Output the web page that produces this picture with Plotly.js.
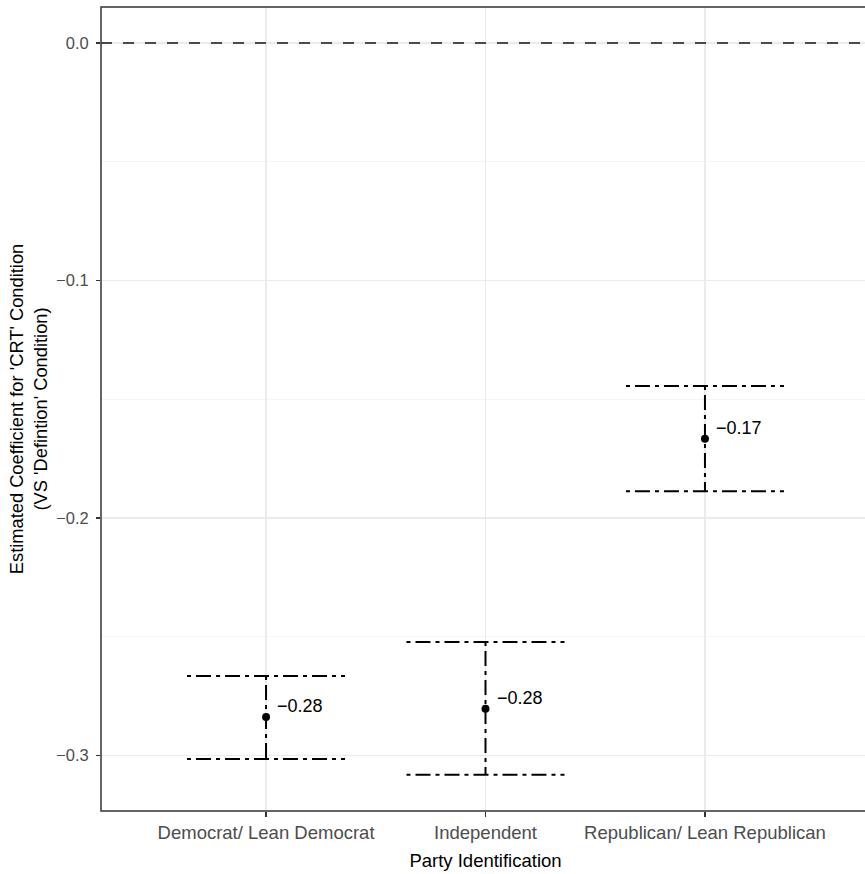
<!DOCTYPE html>
<html>
<head>
<meta charset="utf-8">
<script src="https://cdn.plot.ly/plotly-3.0.1.min.js"></script>
<style>
  html, body { margin: 0; padding: 0; overflow: hidden; background: #fff; }
  #chart { width: 880px; height: 874px; }
</style>
</head>
<body>
<div id="chart"></div>
<script>
// ---- data ----
const categories = ["Democrat/ Lean Democrat", "Independent", "Republican/ Lean Republican"];
const estimates  = [-0.2838, -0.2803, -0.1667];
const upperCI    = [-0.2665, -0.2522, -0.1444];
const lowerCI    = [-0.3015, -0.3081, -0.1888];
const referenceValue = 0;
const yTickVals  = [0, -0.1, -0.2, -0.3];

// ---- styling constants ----
const FONT = "Liberation Sans, Arial, Helvetica, sans-serif";
const whiskerHalf = 0.36;
const positions = categories.map((c, i) => i + 1);

// error bars as dash-dot paths
const ebX = [], ebY = [];
positions.forEach((p, i) => {
  ebX.push(p - whiskerHalf, p + whiskerHalf, null, p, p, null, p - whiskerHalf, p + whiskerHalf, null);
  ebY.push(upperCI[i], upperCI[i], null, upperCI[i], lowerCI[i], null, lowerCI[i], lowerCI[i], null);
});

const traces = [
  {
    x: ebX, y: ebY, type: "scatter", mode: "lines",
    line: { color: "#000000", width: 2, dash: "4px,5px,15px,5px" },
    hoverinfo: "skip", showlegend: false, connectgaps: false
  },
  {
    x: positions, y: estimates, type: "scatter", mode: "markers",
    marker: { color: "#000000", size: 8 },
    showlegend: false
  }
];

const fmt = v => (v < 0 ? "\u2212" : "") + Math.abs(v).toFixed(2);
const annotations = positions.map((p, i) => ({
  x: p, y: estimates[i], xref: "x", yref: "y",
  text: fmt(estimates[i]), showarrow: false,
  xanchor: "left", yanchor: "middle", xshift: 9, yshift: 11,
  font: { family: FONT, size: 18, color: "#000000" }
}));

const layout = {
  width: 880, height: 874,
  margin: { l: 101, r: 10, t: 7, b: 63 },
  paper_bgcolor: "#ffffff", plot_bgcolor: "#ffffff",
  font: { family: FONT, size: 18, color: "#000000" },
  showlegend: false,
  xaxis: {
    range: [0.248, 3.752],
    tickmode: "array", tickvals: positions, ticktext: categories,
    showgrid: true, gridcolor: "#EBEBEB", gridwidth: 1.5,
    zeroline: false, showline: false,
    ticks: "outside", ticklen: 5, tickwidth: 1.3, tickcolor: "#333333",
    tickfont: { family: FONT, size: 18.5, color: "#4D4D4D" },
    title: { text: "Party Identification", font: { family: FONT, size: 18.5, color: "#000000" }, standoff: 11 }
  },
  yaxis: {
    range: [-0.3234, 0.01516],
    tickmode: "array", tickvals: yTickVals, tickformat: ".1f",
    showgrid: true, gridcolor: "#EBEBEB", gridwidth: 1.5,
    minor: { dtick: 0.05, tick0: 0, showgrid: true, gridcolor: "#F3F3F3", gridwidth: 0.8, ticks: "" },
    zeroline: false, showline: false,
    ticks: "outside", ticklen: 4, tickwidth: 1.3, tickcolor: "#333333",
    ticklabelstandoff: 4,
    tickfont: { family: FONT, size: 16.5, color: "#4D4D4D" },
    title: {
      text: "Estimated Coefficient for 'CRT' Condition<br>(VS 'Defintion' Condition)",
      font: { family: FONT, size: 18.3, color: "#000000" }, standoff: 3
    }
  },
  shapes: [
    {
      type: "line", xref: "paper", x0: 0, x1: 1, yref: "y", y0: referenceValue, y1: referenceValue,
      line: { color: "#4A4A4A", width: 2, dash: "11px,11px" }, layer: "above"
    },
    {
      type: "rect", xref: "paper", yref: "paper", x0: 0, x1: 1, y0: 0, y1: 1,
      line: { color: "#333333", width: 1.5 }, fillcolor: "rgba(0,0,0,0)", layer: "above"
    }
  ],
  annotations: annotations
};

Plotly.newPlot("chart", traces, layout, { displayModeBar: false, staticPlot: true });
</script>
</body>
</html>
